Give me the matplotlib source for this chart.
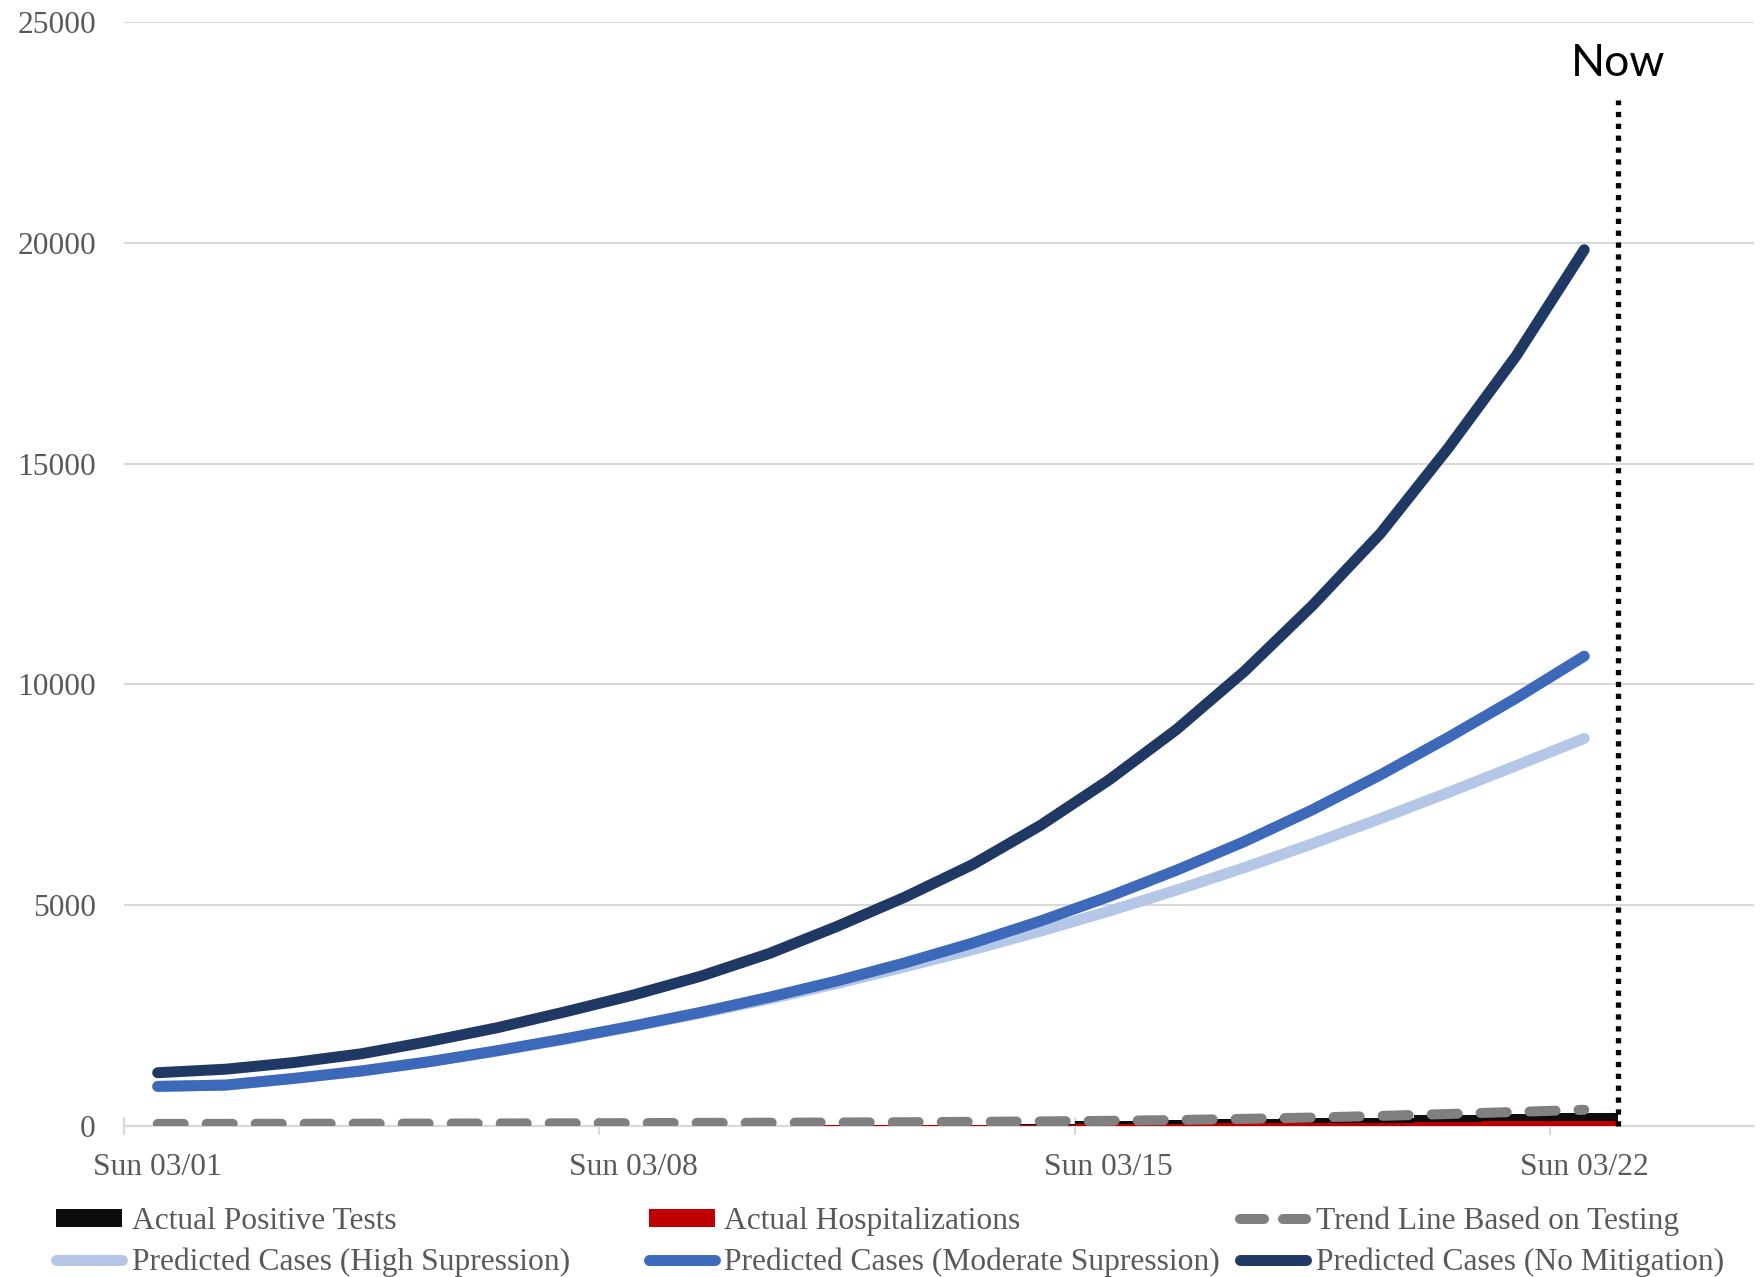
import matplotlib
matplotlib.use("Agg")
import matplotlib.pyplot as plt
from matplotlib.lines import Line2D
from matplotlib.patches import Patch

# ---------------- data ----------------
dates = ["03/01", "03/02", "03/03", "03/04", "03/05", "03/06", "03/07",
         "03/08", "03/09", "03/10", "03/11", "03/12", "03/13", "03/14",
         "03/15", "03/16", "03/17", "03/18", "03/19", "03/20", "03/21", "03/22"]
tick_labels = ["Sun 03/01", "Sun 03/08", "Sun 03/15", "Sun 03/22"]
tick_dates = ["03/01", "03/08", "03/15", "03/22"]

positive_tests = [0, 0, 0, 0, 0, 0, 0, 0, 0, 0, 10, 15, 20, 30,
                  110, 125, 160, 165, 170, 240, 265, 295]
hospitalizations = [0, 0, 0, 0, 0, 0, 0, 0, 0, 0, 5, 8, 10, 15,
                    30, 40, 50, 55, 60, 90, 95, 110]
trend_testing = [40, 42, 44, 46, 48, 51, 54, 58, 63, 68, 72, 78, 88, 97,
                 110, 128, 155, 185, 222, 265, 312, 360]
pred_high = [890, 920, 1070, 1240, 1450, 1690, 1960, 2250, 2550, 2870, 3220,
             3600, 3990, 4410, 4860, 5340, 5850, 6390, 6960, 7550, 8160, 8775]
pred_moderate = [890, 920, 1070, 1240, 1450, 1700, 1970, 2260, 2570, 2910,
                 3280, 3690, 4140, 4640, 5190, 5790, 6440, 7160, 7950, 8800,
                 9690, 10640]
pred_none = [1200, 1280, 1430, 1630, 1910, 2220, 2580, 2960, 3390, 3900, 4515,
             5180, 5920, 6810, 7830, 8980, 10300, 11790, 13420, 15360, 17450,
             19850]

now_label = "Now"
legend_labels = ["Actual Positive Tests", "Actual Hospitalizations",
                 "Trend Line Based on Testing",
                 "Predicted Cases (High Supression)",
                 "Predicted Cases (Moderate Supression)",
                 "Predicted Cases (No Mitigation)"]

# ---------------- style ----------------
c_black = "#0D0D0D"
c_red = "#C00000"
c_trend = "#808080"
c_high = "#B4C7E7"
c_mod = "#3C69BA"
c_none = "#203864"
c_text = "#595959"
c_grid = "#D9D9D9"
serif = ["Liberation Serif", "DejaVu Serif"]
fs = 22.7

fig = plt.figure(figsize=(17.65, 12.77), dpi=100)
ax = fig.add_axes([0.0701, 0.1185, 0.9237, 0.8639])

x = list(range(len(dates)))

ax.bar(x, positive_tests, width=1.0, color=c_black, zorder=2, linewidth=0)
ax.bar(x, hospitalizations, width=1.0, color=c_red, zorder=2.1, linewidth=0)

lw = 7.9
ax.plot(x, trend_testing, color=c_trend, lw=7.2, linestyle=(0, (2.6, 2.3)),
        dash_capstyle="round", zorder=3)
ax.plot(x, pred_high, color=c_high, lw=lw, solid_capstyle="round",
        solid_joinstyle="round", zorder=4)
ax.plot(x, pred_moderate, color=c_mod, lw=lw, solid_capstyle="round",
        solid_joinstyle="round", zorder=5)
ax.plot(x, pred_none, color=c_none, lw=lw, solid_capstyle="round",
        solid_joinstyle="round", zorder=6)

# Now marker
now_x = len(dates) - 0.5
ax.plot([now_x, now_x], [0, 23250], color="black", lw=3.8,
        linestyle=(0, (1, 1.25)), dash_capstyle="butt", zorder=7,
        clip_on=False)
ax.text(now_x, 24080, now_label, ha="center", va="center", fontsize=32,
        family=["Lato", "DejaVu Sans"], fontweight="normal", color="black")

# axes
ax.set_xlim(-0.5, len(dates) + 1.5)
ax.set_ylim(0, 25000)
ax.set_yticks([0, 5000, 10000, 15000, 20000, 25000])
ax.set_yticklabels(["0", "5000", "10000", "15000", "20000", "25000"],
                   family=serif, fontsize=fs, color=c_text)
ax.yaxis.grid(True, color=c_grid, lw=1.5, zorder=0)
ax.set_axisbelow(True)
ax.tick_params(axis="y", length=0, pad=20)

ax.set_xticks([dates.index(d) for d in tick_dates])
ax.set_xticklabels(tick_labels, family=serif, fontsize=fs, color=c_text)
ax.set_xticks([dates.index(d) - 0.5 for d in tick_dates], minor=True)
ax.tick_params(axis="x", which="major", length=0, pad=20)
ax.tick_params(axis="x", which="minor", length=13, width=1.5,
               direction="inout", color=c_grid)

for s in ["top", "right", "left"]:
    ax.spines[s].set_visible(False)
ax.spines["bottom"].set_color(c_grid)
ax.spines["bottom"].set_linewidth(1.5)
ax.spines["bottom"].set_zorder(1)

# legend (three columns)
h_pos = Patch(facecolor=c_black, edgecolor="none")
h_hosp = Patch(facecolor=c_red, edgecolor="none")
h_trend = Line2D([], [], color=c_trend, lw=7.2, linestyle=(0, (2.4, 1.9)),
                 dash_capstyle="round")
h_high = Line2D([], [], color=c_high, lw=lw, solid_capstyle="round")
h_mod = Line2D([], [], color=c_mod, lw=lw, solid_capstyle="round")
h_none = Line2D([], [], color=c_none, lw=lw, solid_capstyle="round")

cols = [([h_pos, h_high], [legend_labels[0], legend_labels[3]], 0.0317),
        ([h_hosp, h_mod], [legend_labels[1], legend_labels[4]], 0.3675),
        ([h_trend, h_none], [legend_labels[2], legend_labels[5]], 0.7025)]
for handles, labels, xa in cols:
    leg = fig.legend(handles, labels, loc="upper left",
                     bbox_to_anchor=(xa, 0.055), frameon=False,
                     borderpad=0, borderaxespad=0, handlelength=2.1,
                     handleheight=0.5, handletextpad=0.3, labelspacing=0.36,
                     prop={"family": serif, "size": fs})
    for t in leg.get_texts():
        t.set_color(c_text)

fig.savefig("out.png", dpi=100)
